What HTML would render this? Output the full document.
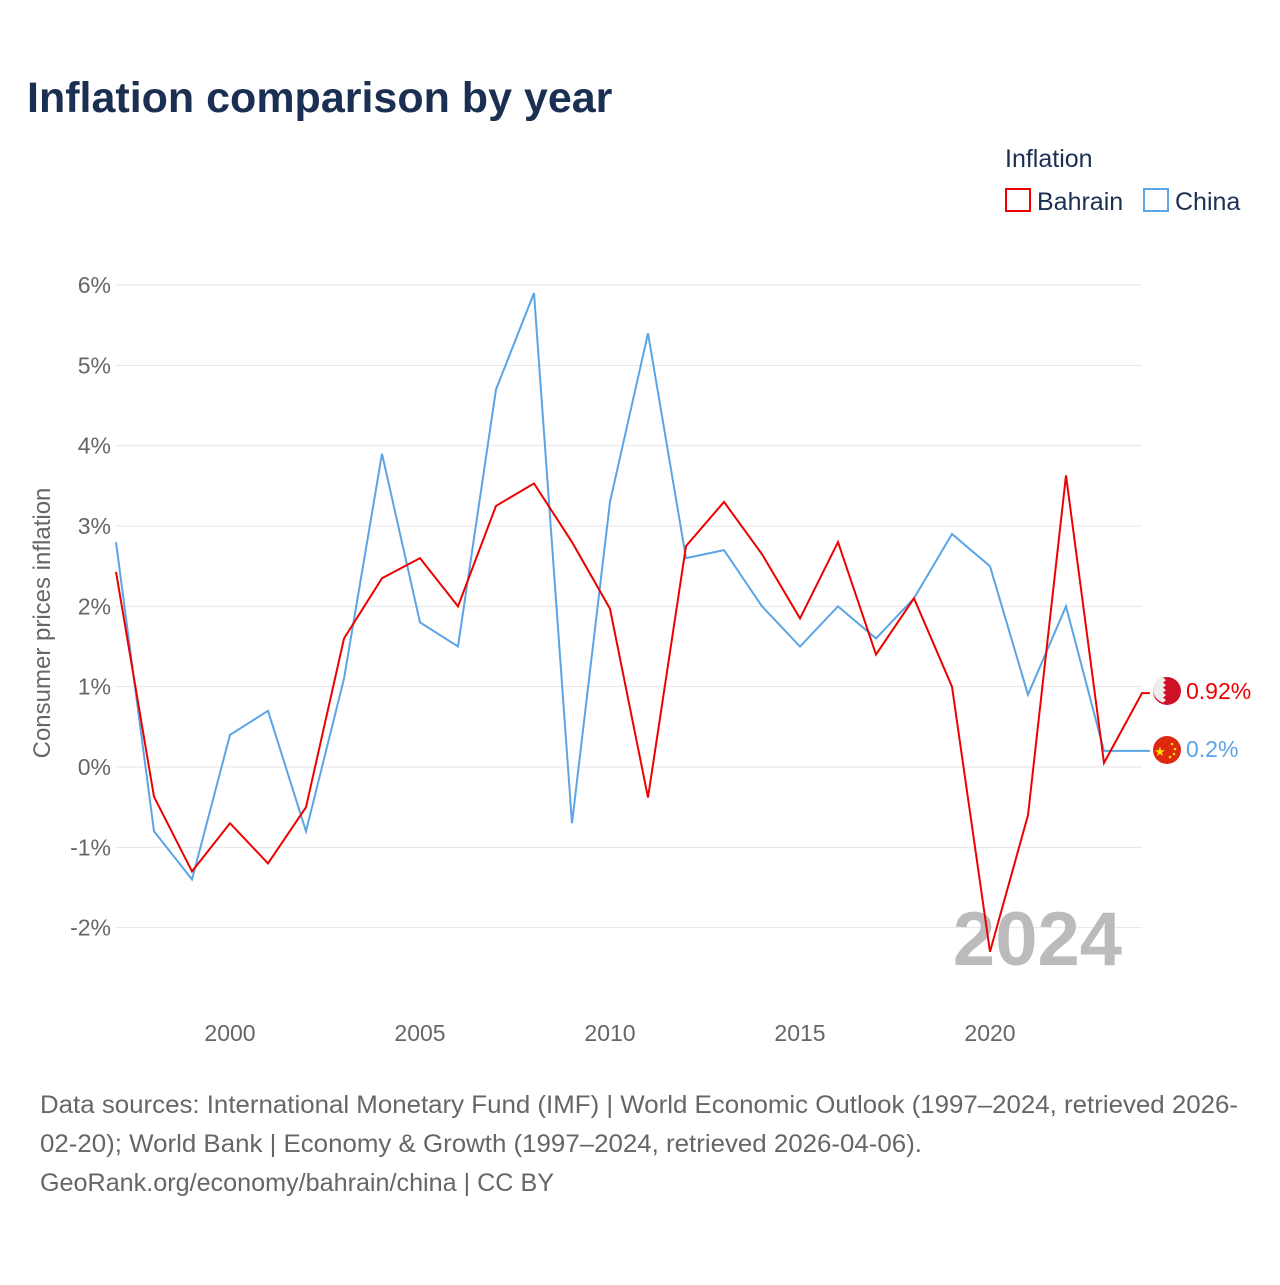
<!DOCTYPE html>
<html><head><meta charset="utf-8"><style>
body{margin:0;background:#fff;font-family:"Liberation Sans",sans-serif}
</style></head><body>
<svg id="c" width="1280" height="1280" xmlns="http://www.w3.org/2000/svg">
<text x="27" y="112" font-size="43" font-weight="bold" fill="#1b2f52">Inflation comparison by year</text>
<text x="1005" y="167" font-size="25" fill="#1b2f52">Inflation</text>
<g><rect x="1006" y="189" width="24" height="22" fill="none" stroke="#ee0000" stroke-width="2"/><text x="1037" y="210" font-size="25" fill="#1b2f52">Bahrain</text></g>
<g><rect x="1144" y="189" width="24" height="22" fill="none" stroke="#5ba4e6" stroke-width="2"/><text x="1175" y="210" font-size="25" fill="#1b2f52">China</text></g>
<text transform="translate(50,623) rotate(-90)" text-anchor="middle" font-size="24" fill="#666">Consumer prices inflation</text>
<g id="grid"></g><g id="xt"></g>
<text x="1122" y="965" text-anchor="end" font-size="76" font-weight="bold" fill="#bbb">2024</text>
<g id="lines"></g>
<g><circle cx="1167" cy="691" r="14" fill="#ce1126"/><path d="M1153,691 a14,14 0 0 1 10,-13.4 l3,2.5 -3,2.5 3,2.5 -3,2.5 3,2.5 -3,2.5 3,2.5 -3,2.5 3,2.5 -3,2.5 a14,14 0 0 1 -10,-13.4z" fill="#eee"/></g>
<g><circle cx="1167" cy="750" r="14" fill="#de2910"/><text x="1160" y="756" font-size="13" fill="#ffde00" text-anchor="middle">★</text><circle cx="1172" cy="744" r="1.3" fill="#ffde00"/><circle cx="1175" cy="749" r="1.3" fill="#ffde00"/><circle cx="1174" cy="754" r="1.3" fill="#ffde00"/><circle cx="1170" cy="757" r="1.3" fill="#ffde00"/></g>
<text x="1186" y="699" font-size="23" fill="#ee0000">0.92%</text>
<text x="1186" y="757" font-size="23" fill="#5ba4e6">0.2%</text>
<g font-size="25" fill="#666">
<text x="40" y="1113" textLength="1198" lengthAdjust="spacingAndGlyphs">Data sources: International Monetary Fund (IMF) | World Economic Outlook (1997–2024, retrieved 2026-</text>
<text x="40" y="1152" textLength="882" lengthAdjust="spacingAndGlyphs">02-20); World Bank | Economy &amp; Growth (1997–2024, retrieved 2026-04-06).</text>
<text x="40" y="1191" textLength="514" lengthAdjust="spacingAndGlyphs">GeoRank.org/economy/bahrain/china | CC BY</text>
</g>
</svg>
<script>
const years=[1997,1998,1999,2000,2001,2002,2003,2004,2005,2006,2007,2008,2009,2010,2011,2012,2013,2014,2015,2016,2017,2018,2019,2020,2021,2022,2023,2024];
const bahrain=[2.43,-0.37,-1.3,-0.7,-1.2,-0.5,1.6,2.35,2.6,2.0,3.25,3.53,2.8,1.97,-0.38,2.75,3.3,2.65,1.85,2.8,1.4,2.1,1.0,-2.3,-0.6,3.63,0.05,0.92];
const china=[2.8,-0.8,-1.4,0.4,0.7,-0.8,1.1,3.9,1.8,1.5,4.7,5.9,-0.7,3.3,5.4,2.6,2.7,2.0,1.5,2.0,1.6,2.1,2.9,2.5,0.9,2.0,0.2,0.2];
const yTicks=[-2,-1,0,1,2,3,4,5,6];
const xTicks=[2000,2005,2010,2015,2020];
const NS="http://www.w3.org/2000/svg";
const x=v=>116+(v-1997)*38, y=v=>767-v*80.33;
const g=document.getElementById('grid'),xt=document.getElementById('xt'),L=document.getElementById('lines');
function mk(t,a,p){const e=document.createElementNS(NS,t);for(const k in a)e.setAttribute(k,a[k]);p.appendChild(e);return e;}
yTicks.forEach(t=>{
 const l=mk('line',{x1:116,x2:1142,y1:y(t),y2:y(t),stroke:'#e6e6e6','stroke-width':1},g);
 
 
 const tx=mk('text',{x:111,y:y(t)+8,'text-anchor':'end','font-size':23,fill:'#666'},g);
 tx.textContent=t+'%';
 
 
});
xTicks.forEach(t=>{
 const tx=mk('text',{x:x(t),y:1041,'text-anchor':'middle','font-size':23,fill:'#666'},xt);
 tx.textContent=t;
 
 
});
function line(d,c,n){
 let p=d.map((v,i)=>(i?'L':'M')+x(years[i])+','+y(v)).join(' ');
 p+=' L'+(x(years[years.length-1])+8)+','+y(d[d.length-1]);
 const e=mk('path',{d:p,fill:'none',stroke:c,'stroke-width':2},L);
 
 
}
line(china,'#5ba4e6','china-line');
line(bahrain,'#ee0000','bahrain-line');
</script>
</body></html>
